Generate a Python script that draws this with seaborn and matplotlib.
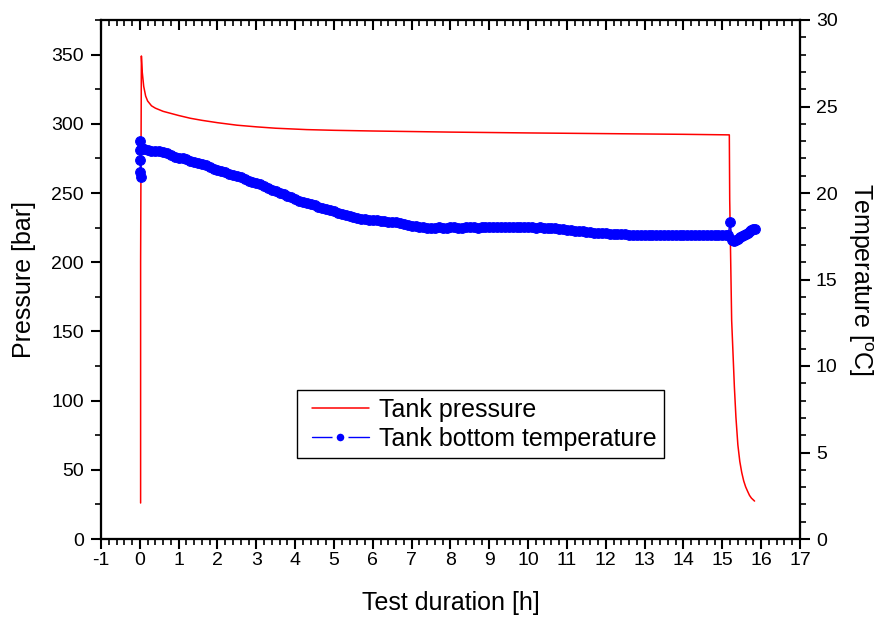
import matplotlib
matplotlib.use("Agg")
import matplotlib.pyplot as plt
from matplotlib.ticker import MultipleLocator
from matplotlib.lines import Line2D
from matplotlib.legend_handler import HandlerLine2D
import seaborn as sns

# Tank pressure [bar] vs time [h]
pressure_time = [0.02, 0.02, 0.04, 0.06, 0.1, 0.15, 0.2, 0.3, 0.4, 0.6, 0.8,
                 1.0, 1.3, 1.6, 2.0, 2.5, 3.0, 3.5, 4.3, 5.0, 6.0, 7.0, 8.0,
                 10.0, 12.0, 14.0, 15.18,
                 15.19, 15.24, 15.31, 15.35, 15.40, 15.45, 15.50, 15.55, 15.60,
                 15.65, 15.70, 15.75, 15.83]
pressure_bar = [26, 200, 349, 338, 327, 320, 316.5, 313, 311.3, 309, 307.5,
                306, 304, 302.5, 300.8, 299, 297.8, 296.8, 295.8, 295.3, 294.8,
                294.4, 294.0, 293.4, 292.9, 292.4, 292.0,
                245, 158, 110, 88, 68, 56, 48, 42, 37.7,
                34.5, 31.5, 29.5, 27.4]

# Tank bottom temperature [degC] vs time [h]
temp_time_start = [0.0, 0.01, 0.01, 0.01, 0.02, 0.05]
temp_start = [23.0, 22.5, 21.9, 21.2, 20.9, 22.6]

temp_time_main = [round(0.1 * i, 1) for i in range(1, 152)]  # 0.1 ... 15.1
temp_main = [
    22.55, 22.5, 22.45, 22.45, 22.4, 22.35, 22.3, 22.2, 22.1, 22.05,
    22.0, 21.95, 21.85, 21.8, 21.75, 21.65, 21.6, 21.5, 21.4, 21.35,
    21.3, 21.2, 21.1, 21.05, 21.0, 20.9, 20.8, 20.7, 20.65, 20.55,
    20.5, 20.4, 20.3, 20.2, 20.1, 20.0, 19.95, 19.85, 19.75, 19.65,
    19.55, 19.5, 19.4, 19.35, 19.3, 19.2, 19.15, 19.05, 19.0, 18.95,
    18.85, 18.8, 18.7, 18.65, 18.6, 18.55, 18.5, 18.5, 18.45, 18.45,
    18.45, 18.4, 18.4, 18.35, 18.3, 18.3, 18.25, 18.2, 18.15, 18.1,
    18.1, 18.05, 18.05, 18.0, 18.0, 18.0, 18.05, 18.0, 18.0, 18.05,
    18.05, 18.0, 18.0, 18.05, 18.05, 18.05, 18.0, 18.05, 18.05, 18.05,
    18.05, 18.05, 18.05, 18.05, 18.05, 18.05, 18.05, 18.05, 18.05, 18.05,
    18.05, 18.0, 18.05, 18.0, 18.0, 17.95, 17.95, 17.9, 17.9, 17.85,
    17.85, 17.8, 17.8, 17.8, 17.75, 17.75, 17.7, 17.7, 17.7, 17.7,
    17.65, 17.65, 17.65, 17.65, 17.65, 17.6, 17.6, 17.6, 17.6, 17.6,
    17.55, 17.55, 17.6, 17.55, 17.55, 17.55, 17.55, 17.55, 17.6, 17.55,
    17.55, 17.55, 17.55, 17.55, 17.55, 17.55, 17.55, 17.55, 17.55, 17.55,
    17.55,
]

temp_time_end = [15.15, 15.2, 15.25, 15.3, 15.35, 15.4, 15.45, 15.5, 15.55,
                 15.6, 15.65, 15.7, 15.75, 15.8, 15.85]
temp_end = [17.55, 18.35, 17.3, 17.25, 17.3, 17.35, 17.45, 17.5, 17.55,
            17.65, 17.7, 17.8, 17.85, 17.9, 17.9]

temp_time = temp_time_start + temp_time_main + temp_time_end
temp_c = temp_start + temp_main + temp_end

sns.set_style("ticks")
plt.rcParams["font.family"] = ["Liberation Sans", "DejaVu Sans"]
plt.rcParams["mathtext.fontset"] = "custom"
plt.rcParams["mathtext.rm"] = "Liberation Sans"
plt.rcParams["mathtext.it"] = "Liberation Sans"
plt.rcParams["axes.unicode_minus"] = False
plt.rcParams["text.color"] = "black"
plt.rcParams["axes.labelcolor"] = "black"
plt.rcParams["xtick.color"] = "black"
plt.rcParams["ytick.color"] = "black"

fig = plt.figure(figsize=(8.78, 6.19), dpi=100)
ax = fig.add_axes([101 / 878, 80 / 619, 699 / 878, 519 / 619])
ax2 = ax.twinx()

sns.lineplot(x=pressure_time, y=pressure_bar, ax=ax, color="#ff0000",
             linewidth=1.1, estimator=None, sort=False, label="Tank pressure",
             legend=False)
sns.lineplot(x=temp_time, y=temp_c, ax=ax2, color="#0000ff", linewidth=1.0,
             marker="o", markersize=7, markeredgecolor="#0000ff",
             estimator=None, sort=False, label="Tank bottom temperature",
             legend=False)

ax.set_xlim(-1, 17)
ax.set_ylim(0, 375)
ax2.set_ylim(0, 30)

ax.xaxis.set_major_locator(MultipleLocator(1))
ax.xaxis.set_minor_locator(MultipleLocator(0.2))
ax.yaxis.set_major_locator(MultipleLocator(50))
ax.yaxis.set_minor_locator(MultipleLocator(25))
ax2.yaxis.set_major_locator(MultipleLocator(5))
ax2.yaxis.set_minor_locator(MultipleLocator(1))

# top axis: inward ticks, no labels
ax3 = ax.twiny()
ax3.set_xlim(-1, 17)
ax3.xaxis.set_major_locator(MultipleLocator(1))
ax3.xaxis.set_minor_locator(MultipleLocator(0.2))

for a in (ax, ax2, ax3):
    for s in a.spines.values():
        s.set_linewidth(1.5)
        s.set_color("black")
    a.tick_params(which="major", length=7.5, width=1.5, labelsize=14)
    a.tick_params(which="minor", length=4, width=1.2)

ax.tick_params(axis="both", which="both", direction="out")
ax.tick_params(axis="x", pad=2)
ax.tick_params(axis="y", pad=5)
ax2.tick_params(axis="y", which="both", direction="out", pad=4)
ax3.tick_params(axis="x", which="both", direction="in", labeltop=False)

ax.set_xlabel("Test duration [h]", fontsize=18, labelpad=16)
ax.set_ylabel("Pressure [bar]", fontsize=18, labelpad=11)
ax2.set_ylabel(r"Temperature [$^{\mathrm{o}}$C]", fontsize=18, rotation=270,
               va="bottom", labelpad=6)

handles = ax.get_lines()[:1] + ax2.get_lines()[:1]
leg = ax2.legend(handles, [h.get_label() for h in handles],
                 loc="upper left", bbox_to_anchor=(0.280, 0.287),
                 fontsize=18, frameon=True, fancybox=False, framealpha=1,
                 edgecolor="black", handlelength=2.6, handletextpad=0.4,
                 labelspacing=0.2, borderpad=0.3, borderaxespad=0,
                 numpoints=1, handler_map={Line2D: HandlerLine2D(xpad=0.3)})
leg.get_frame().set_linewidth(1.0)
# Origin-style symbol in the legend: dot with small gaps in the line
blue_handle = leg.legend_handles[1]
blue_handle.set_markersize(8.5)
blue_handle.set_markeredgecolor("white")
blue_handle.set_markeredgewidth(3)

fig.savefig("out.png", dpi=100)
